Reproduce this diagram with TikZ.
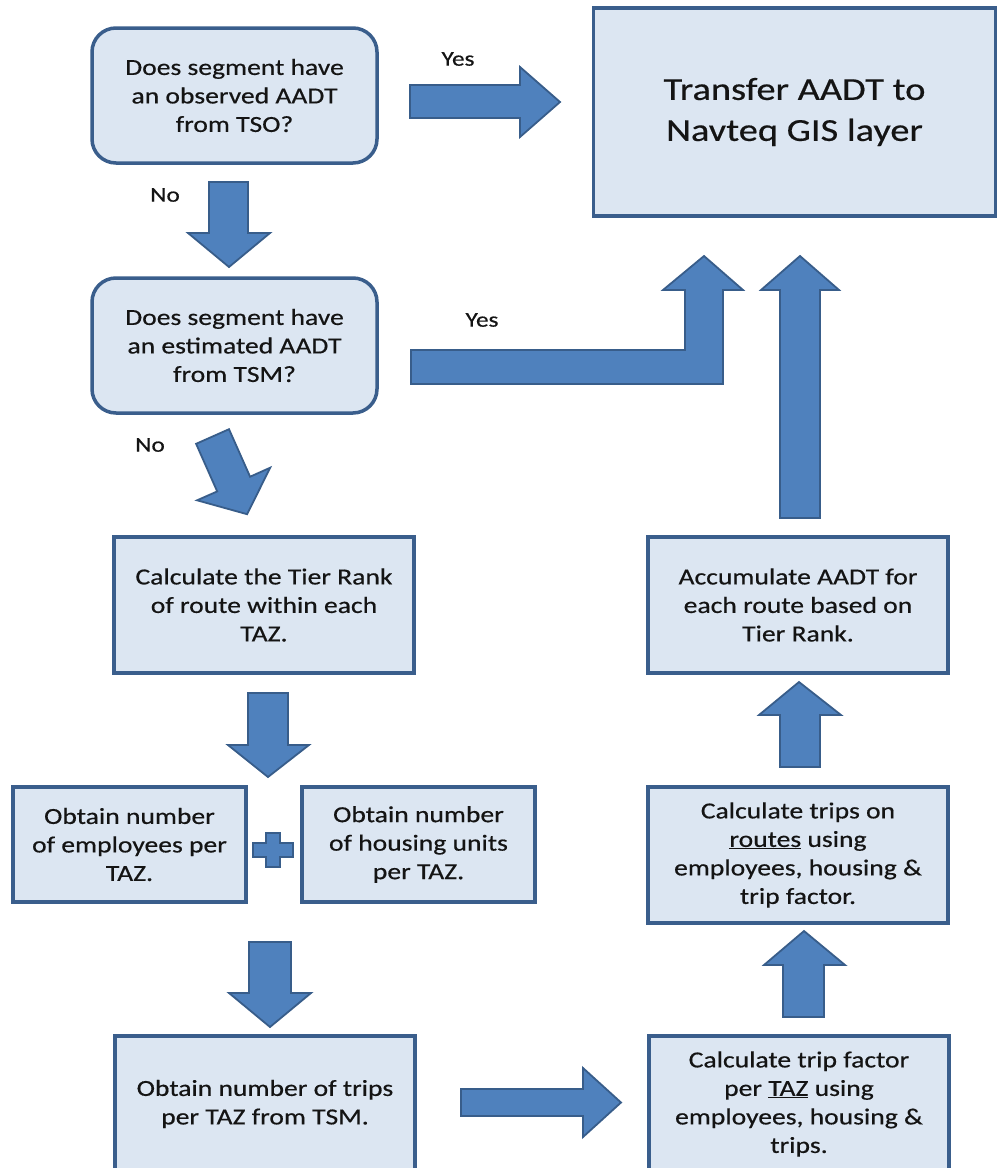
\documentclass[tikz,border=0pt]{standalone}
\usepackage{fontspec}
\setmainfont[FakeStretch=1.2,FakeBold=0.5]{Carlito}
\definecolor{boxfill}{HTML}{DCE6F2}
\definecolor{boxline}{HTML}{3A5E8C}
\definecolor{arrfill}{HTML}{4F81BD}
\definecolor{arrline}{HTML}{385D8A}
\definecolor{txt}{HTML}{141414}
\tikzset{
  stepbox/.style={draw=boxline, fill=boxfill, line width=3.5pt, align=center, text=txt,
    font=\fontsize{23}{28.5}\selectfont, inner sep=0pt},
  decbox/.style={stepbox, rounded corners=24pt},
  blockarr/.style={fill=arrfill, draw=arrline, line width=1.8pt, line join=miter},
  lab/.style={text=txt, font=\fontsize{21}{25}\selectfont, inner sep=0pt}
}
\begin{document}
\begin{tikzpicture}[x=1pt,y=-1pt]
\useasboundingbox (0,0) rectangle (997,1168);
\fill[white] (0,0) rectangle (997,1168);

% boxes
\node[decbox, minimum width=285pt, minimum height=135pt] (q1) at (234.5,95.5)
  {Does segment have\\an observed AADT\\from TSO?};
\node[decbox, minimum width=285pt, minimum height=135pt] (q2) at (234.5,345.5)
  {Does segment have\\an estimated AADT\\from TSM?};
\node[stepbox, minimum width=402pt, minimum height=208pt, font=\fontsize{32}{41}\selectfont] (tr) at (794.5,112)
  {Transfer AADT to\\Navteq GIS layer};
\node[stepbox, minimum width=300pt, minimum height=136pt] (tier) at (264,605)
  {Calculate the Tier Rank\\of route within each\\TAZ.};
\node[stepbox, minimum width=233pt, minimum height=115pt] (emp) at (129.5,844.5)
  {Obtain number\\of employees per\\TAZ.};
\node[stepbox, minimum width=233pt, minimum height=115pt] (hou) at (418.5,844.5)
  {Obtain number\\of housing units\\per TAZ.};
\node[stepbox, minimum width=300pt, minimum height=136pt] (trips) at (265,1104)
  {Obtain number of trips\\per TAZ from TSM.};
\node[stepbox, minimum width=300pt, minimum height=136pt] (tf) at (799,1104)
  {Calculate trip factor\\per \underline{TAZ} using\\employees, housing \&\\trips.};
\node[stepbox, minimum width=300pt, minimum height=136pt] (ct) at (798,855)
  {Calculate trips on\\\underline{routes} using\\employees, housing \&\\trip factor.};
\node[stepbox, minimum width=300pt, minimum height=136pt] (acc) at (798,605)
  {Accumulate AADT for\\each route based on\\Tier Rank.};

% labels
\node[lab] (yes1) at (458,59) {Yes};
\node[lab] (no1) at (165,195) {No};
\node[lab] (yes2) at (482,320) {Yes};
\node[lab] (no2) at (150,445) {No};

% block arrows
% q1 -> tr (Yes)
\draw[blockarr] (410,85) -- (520,85) -- (520,67) -- (560,102) -- (520,137) -- (520,118) -- (410,118) -- cycle;
% q1 -> q2 (No)
\draw[blockarr] (209,182) -- (248,182) -- (248,233) -- (270,233) -- (229,267) -- (188,233) -- (209,233) -- cycle;
% q2 -> tr (Yes, bent)
\draw[blockarr] (411,350) -- (685,350) -- (685,290) -- (663,290) -- (704,256) -- (743,290) -- (723,290) -- (723,384) -- (411,384) -- cycle;
% acc -> tr
\draw[blockarr] (780,518) -- (780,290) -- (761,290) -- (800,256) -- (839,290) -- (820,290) -- (820,518) -- cycle;
% q2 -> tier (No, diagonal)
\draw[blockarr] (196.1,443.8) -- (229.0,429.2) -- (250.1,476.7) -- (270.2,467.7) -- (247.1,514.2) -- (197.1,500.3) -- (217.2,491.4) -- cycle;
% tier -> emp/hou
\draw[blockarr] (248,693) -- (288,693) -- (288,745) -- (309,745) -- (268,777) -- (228,745) -- (248,745) -- cycle;
% plus
\draw[blockarr, line width=1.5pt] (266,833) -- (280,833) -- (280,843) -- (293,843) -- (293,857) -- (280,857) -- (280,867) -- (266,867) -- (266,857) -- (253,857) -- (253,843) -- (266,843) -- cycle;
% -> trips
\draw[blockarr] (249,942) -- (291,942) -- (291,993) -- (311,993) -- (270,1027) -- (229,993) -- (249,993) -- cycle;
% trips -> tf
\draw[blockarr] (461,1089) -- (583,1089) -- (583,1068) -- (621,1102.5) -- (583,1137) -- (583,1116) -- (461,1116) -- cycle;
% tf -> ct
\draw[blockarr] (783,1017) -- (783,965) -- (764,965) -- (804,931) -- (845,965) -- (824,965) -- (824,1017) -- cycle;
% ct -> acc
\draw[blockarr] (780,767) -- (780,715) -- (759,715) -- (799,682) -- (841,715) -- (820,715) -- (820,767) -- cycle;
\end{tikzpicture}
\end{document}
